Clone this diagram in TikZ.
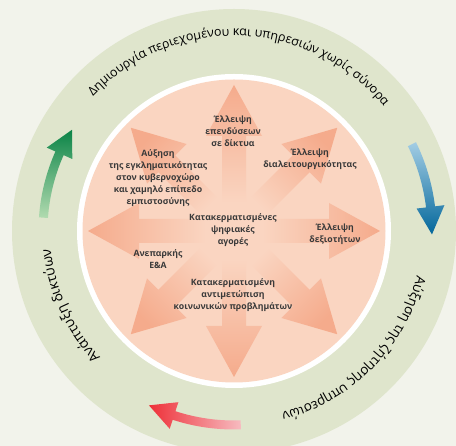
\documentclass[tikz,border=0pt]{standalone}
\usepackage{fontspec}
\setmainfont{Open Sans}
\usetikzlibrary{calc,decorations.text}
\definecolor{bgc}{HTML}{F2F3EB}
\definecolor{ringc}{HTML}{DFE5CC}
\definecolor{salmon}{HTML}{FAD5C1}
\definecolor{arrc}{HTML}{F5AB8C}
\definecolor{txtc}{HTML}{3A3A3A}
\definecolor{dgrn}{HTML}{0B8447}
\definecolor{lgrn}{HTML}{B2DBB0}
\definecolor{dblu}{HTML}{03679B}
\definecolor{lblu}{HTML}{A3CDE4}
\definecolor{dred}{HTML}{EE3038}
\definecolor{lred}{HTML}{F7BBC0}
\newcommand\ringfont[1]{\fontsize{#1}{14}\selectfont}
\begin{document}
\begin{tikzpicture}[x=1pt,y=1pt]
\tikzstyle{lbl}=[align=center,font=\bfseries\fontsize{8.7}{11.8}\selectfont,text=txtc,inner sep=0pt]
\tikzstyle{ring}=[decorate,decoration={text along path,text align=center}]
\useasboundingbox (0,0) rectangle (456,446);
\clip (0,0) rectangle (456,446);
\fill[bgc] (0,0) rectangle (456,446);
\coordinate (c) at (234,215);
\fill[ringc] (c) circle[radius=222];
\fill[white] (c) circle[radius=157];
\fill[salmon] (c) circle[radius=151.5];
\foreach \a [evaluate=\a as \sa using \a-90] in {0,45,...,315}
	\shade[top color=arrc,middle color=arrc!80!salmon,bottom color=salmon,shading angle=\sa]
	($(c)+(\a:28)+(\a+90:12)$) -- ($(c)+(\a:95)+(\a+90:12)$) -- ($(c)+(\a:95)+(\a+90:28)$) --
	($(c)+(\a:146)$) -- ($(c)+(\a:95)+(\a-90:28)$) -- ($(c)+(\a:95)+(\a-90:12)$) --
	($(c)+(\a:28)+(\a-90:12)$) -- cycle;
\foreach \name/\point/\txt in {
	invest/{233,315}/{Έλλειψη\\επενδύσεων\\σε δίκτυα},
	crime/{158,268}/{Αύξηση\\της εγκληματικότητας\\στον κυβερνοχώρο\\και χαμηλό επίπεδο\\εμπιστοσύνης},
	interop/{310,287}/{Έλλειψη\\διαλειτουργικότητας},
	markets/{233,216}/{Κατακερματισμένες\\ψηφιακές\\αγορές},
	skills/{335,212}/{Έλλειψη\\δεξιοτήτων},
	rnd/{158,187}/{Ανεπαρκής\\Ε\&Α},
	social/{233,151}/{Κατακερματισμένη\\αντιμετώπιση\\κοινωνικών προβλημάτων}}
	\node[lbl] (\name) at (\point) {\txt};
\foreach \col/\sa/\r/\ta/\tb/\tc [evaluate=\r as \ro using \r+4.5, evaluate=\r as \ri using \r-4.5,
		evaluate=\r as \ho using \r+14, evaluate=\r as \hi using \r-14] in {
	grn/0/191/176/156/148,
	blu/180/198/26/7/-1,
	red/90/194/-88/-108/-116}
	\shade[top color=d\col,middle color=d\col,bottom color=l\col,shading angle=\sa]
	($(c)+(\ta:\ro)$) arc[start angle=\ta,end angle=\tb,radius=\ro] -- ($(c)+(\tb:\ho)$) --
	($(c)+(\tc:\r)$) -- ($(c)+(\tb:\hi)$) -- ($(c)+(\tb:\ri)$) arc[start angle=\tb,end angle=\ta,radius=\ri] -- cycle;
\path[ring,decoration={text={|\ringfont{12.5}|Δημιουργία περιεχομένου και υπηρεσιών χωρίς σύνορα}}]
	($(c)+(158:195)$) arc[start angle=158,end angle=18,radius=195];
\path[ring,decoration={text={|\ringfont{13.5}|Αύξηση της ζήτησης υπηρεσιών}}]
	($(c)+(25.5:188)$) arc[start angle=25.5,end angle=-114.5,radius=188];
\path[ring,decoration={text={|\ringfont{14}|Ανάπτυξη δικτύων}}]
	($(c)+(274.5:184)$) arc[start angle=274.5,end angle=134.5,radius=184];
\end{tikzpicture}
\end{document}
